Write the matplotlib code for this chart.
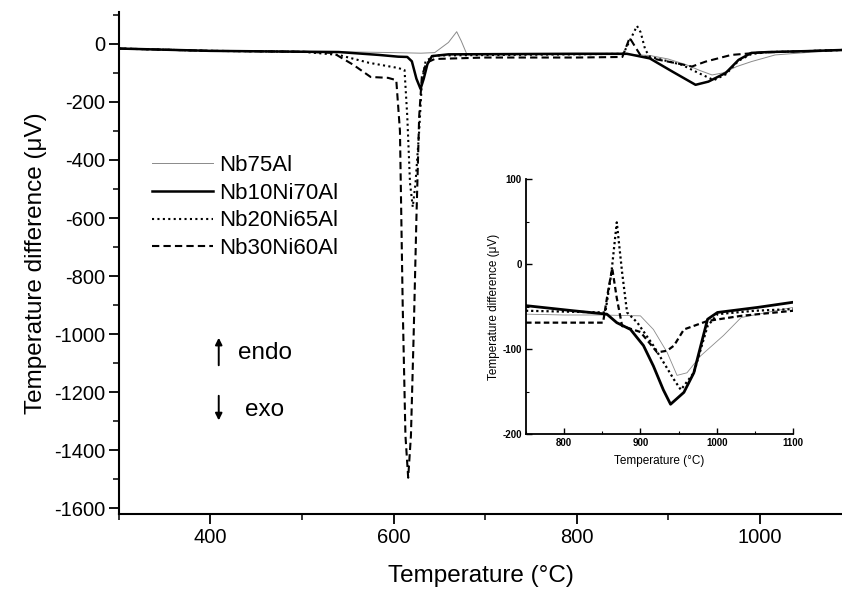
import matplotlib
matplotlib.use("Agg")
import matplotlib.pyplot as plt
from matplotlib.ticker import MultipleLocator

plt.rcParams['font.family'] = ['Liberation Sans', 'DejaVu Sans']
plt.rcParams['axes.unicode_minus'] = False

labels = ["Nb75Al", "Nb10Ni70Al", "Nb20Ni65Al", "Nb30Ni60Al"]

# main DTA traces
t_75 = [300, 400, 500, 560, 600, 630, 645, 660, 669, 674, 680, 700, 800, 860, 880, 900, 920, 935, 948, 960, 975, 991, 1017, 1050, 1090]
v_75 = [-16, -24, -27, -28, -30, -32, -30, 5, 42, 10, -35, -37, -37, -37, -40, -52, -72, -92, -107, -100, -78, -61, -38, -30, -22]

t_10 = [300, 400, 500, 540, 584, 605, 615, 620, 625, 629.5, 633, 637, 642, 660, 800, 855, 880, 905, 930, 944, 963, 977, 991, 1010, 1050, 1090]
v_10 = [-16, -24, -27, -28, -38, -44, -45, -60, -120, -155, -120, -70, -42, -36, -34, -34, -50, -96, -141, -130, -100, -55, -31, -28, -25, -21]

t_20 = [300, 400, 500, 540, 573, 605, 612, 615, 618, 621, 624, 628, 631, 635, 645, 800, 851, 858, 866, 870, 875, 880, 915, 933, 950, 963, 977, 991, 1010, 1050, 1090]
v_20 = [-16, -24, -27, -38, -65, -83, -90, -250, -480, -562, -480, -300, -130, -60, -40, -36, -34, 10, 62, 40, -20, -44, -72, -100, -125, -105, -58, -35, -28, -25, -21]

t_30 = [300, 400, 500, 534, 556, 575, 594, 603, 607, 610, 613, 616, 619, 622, 625, 628, 631, 636, 645, 700, 800, 850, 858, 864, 870, 879, 908, 926, 941, 969, 1000, 1050, 1090]
v_30 = [-16, -24, -27, -31, -72, -114, -117, -125, -300, -900, -1350, -1495, -1350, -1000, -600, -250, -110, -65, -52, -47, -47, -45, 21, -10, -40, -48, -66, -78, -61, -38, -30, -25, -21]

# inset traces (750-1100 C)
it_75 = [750, 800, 850, 900, 917, 935, 948, 961, 979, 1009, 1032, 1100]
iv_75 = [-59, -60, -60, -61, -77, -104, -131, -128, -108, -84, -63, -51]

it_10 = [750, 812, 856, 869, 887, 904, 917, 930, 939.5, 957, 970, 988, 1001, 1054, 1100]
iv_10 = [-49, -55, -59, -69, -77, -96, -120, -148, -165, -151, -128, -65, -57, -51, -45]

it_20 = [750, 800, 854, 862, 869, 876, 882.5, 896, 917, 944, 953, 970, 988, 1001, 1050, 1100]
iv_20 = [-55, -56, -57, -10, 49, -10, -57, -69, -96, -136, -148, -128, -73, -59, -55, -53]

it_30 = [750, 800, 851, 857, 863, 869, 876, 900, 922, 935, 944, 957, 988, 1032, 1100]
iv_30 = [-69, -69, -69, -35, -5, -40, -73, -80, -104, -102, -96, -77, -67, -61, -55]

styles = [
    dict(color='#8a8a8a', lw=0.7, ls='-'),
    dict(color='black', lw=1.8, ls='-'),
    dict(color='black', lw=1.5, ls=(0, (1, 1.6))),
    dict(color='black', lw=1.5, ls=(0, (3.5, 2))),
]

fig = plt.figure(figsize=(8.42, 5.9), dpi=100)
ax = fig.add_axes([0.1413, 0.1288, 0.8587, 0.8509])

main = [(t_75, v_75), (t_10, v_10), (t_20, v_20), (t_30, v_30)]
for (t, v), lab, st in zip(main, labels, styles):
    ax.plot(t, v, label=lab, **st)

ax.set_xlim(300, 1090)
ax.set_ylim(-1620, 110)
for s in ['top', 'right']:
    ax.spines[s].set_visible(False)
for s in ['left', 'bottom']:
    ax.spines[s].set_linewidth(1.5)
ax.xaxis.set_major_locator(MultipleLocator(200))
ax.xaxis.set_minor_locator(MultipleLocator(100))
ax.yaxis.set_major_locator(MultipleLocator(200))
ax.yaxis.set_minor_locator(MultipleLocator(100))
ax.tick_params(which='major', direction='out', length=7, width=1.3, labelsize=14.5, pad=3)
ax.tick_params(which='minor', direction='out', length=4, width=1.1)
ax.set_xlabel("Temperature (°C)", fontsize=17.5, labelpad=13)
ax.set_ylabel("Temperature difference (μV)", fontsize=17.5, labelpad=5)

ax.legend(loc='upper left', bbox_to_anchor=(0.045, 0.715), frameon=False,
          fontsize=16, handlelength=2.75, handletextpad=0.3, labelspacing=0.3,
          borderpad=0, borderaxespad=0)

# endo / exo markers
ax.annotate('', xy=(409, -1003), xytext=(409, -1117),
            arrowprops=dict(arrowstyle='-|>', color='black', lw=1.4, mutation_scale=10))
ax.annotate('', xy=(409, -1307), xytext=(409, -1203),
            arrowprops=dict(arrowstyle='-|>', color='black', lw=1.4, mutation_scale=10))
ax.text(430, -1066, "endo", fontsize=17.5, va='center', ha='left')
ax.text(438, -1262, "exo", fontsize=17.5, va='center', ha='left')

# inset
ins = fig.add_axes([0.6247, 0.2644, 0.3171, 0.4322])
inset = [(it_75, iv_75), (it_10, iv_10), (it_20, iv_20), (it_30, iv_30)]
ins_styles = [
    dict(color='#8a8a8a', lw=0.6, ls='-'),
    dict(color='black', lw=2.0, ls='-'),
    dict(color='black', lw=1.6, ls=(0, (1, 1.3))),
    dict(color='black', lw=1.6, ls=(0, (2.5, 1.5))),
]
for (t, v), st in zip(inset, ins_styles):
    ins.plot(t, v, **st)
ins.set_xlim(750, 1100)
ins.set_ylim(-200, 100)
for s in ['top', 'right']:
    ins.spines[s].set_visible(False)
for s in ['left', 'bottom']:
    ins.spines[s].set_linewidth(1.3)
ins.xaxis.set_major_locator(MultipleLocator(100))
ins.xaxis.set_minor_locator(MultipleLocator(50))
ins.yaxis.set_major_locator(MultipleLocator(100))
ins.yaxis.set_minor_locator(MultipleLocator(50))
ins.tick_params(which='major', direction='in', length=4, width=1.0, labelsize=7, pad=3)
ins.tick_params(which='minor', direction='in', length=2.5, width=0.8)
for lab in ins.get_xticklabels() + ins.get_yticklabels():
    lab.set_fontweight('bold')
ins.set_xlabel("Temperature (°C)", fontsize=8.5, labelpad=5)
ins.set_ylabel("Temperature difference (μV)", fontsize=8.5, labelpad=2)

fig.savefig("out.png", dpi=100)
